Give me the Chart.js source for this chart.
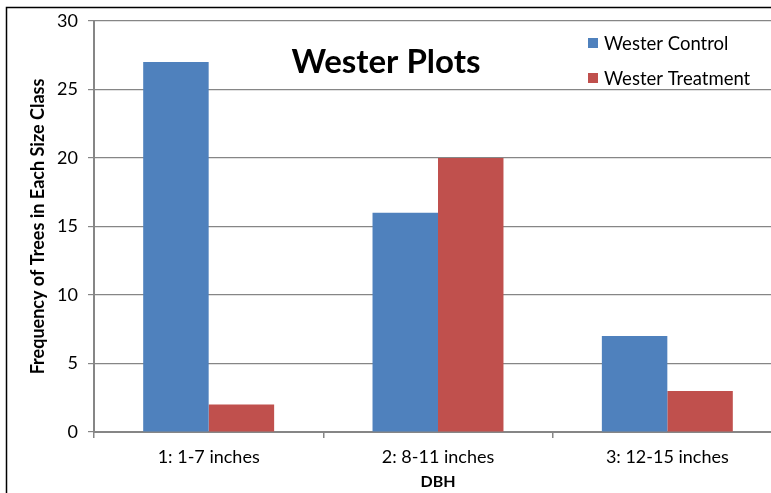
<!DOCTYPE html>
<html><head><meta charset="utf-8">
<script src="https://cdn.jsdelivr.net/npm/chart.js@4"></script>
<style>
html,body{margin:0;padding:0;background:#fff;overflow:hidden;}
#wrap{width:771px;height:493px;overflow:hidden;position:relative;}
#c{position:absolute;left:0;top:0;}
</style></head>
<body><div id="wrap"><canvas id="c" width="790" height="493"></canvas></div>
<script>
const chartTitle = 'Wester Plots';
const categories = ['1: 1-7 inches', '2: 8-11 inches', '3: 12-15 inches'];
const seriesNames = ['Wester Control', 'Wester Treatment'];
const controlValues = [27, 16, 7];
const treatmentValues = [2, 20, 3];
const yTicks = [0, 5, 10, 15, 20, 25, 30];
const xTitle = 'DBH';
const yTitle = 'Frequency of Trees in Each Size Class';
const colors = ['#4F81BD', '#C0504D'];
const FONT = 'Lato, "Open Sans", sans-serif';

const framePlugin = {
  id: 'frame',
  beforeDraw(chart) {
    const ctx = chart.ctx;
    ctx.save();
    ctx.fillStyle = '#fff';
    ctx.fillRect(0, 0, chart.width, chart.height);
    ctx.strokeStyle = '#000';
    ctx.lineWidth = 1.5;
    ctx.beginPath();
    ctx.moveTo(6.5, chart.height);
    ctx.lineTo(6.5, 7.5);
    ctx.lineTo(chart.width, 7.5);
    ctx.stroke();
    ctx.restore();
  },
  afterDraw(chart) {
    const ctx = chart.ctx;
    ctx.save();
    ctx.fillStyle = '#000';
    ctx.font = 'bold 33px ' + FONT;
    ctx.textAlign = 'center';
    ctx.textBaseline = 'middle';
    ctx.fillText(chartTitle, 386, 62);
    ctx.font = '18.5px ' + FONT;
    ctx.textAlign = 'left';
    chart.data.datasets.forEach((ds, i) => {
      const y = 43 + i * 35;
      ctx.fillStyle = ds.backgroundColor;
      ctx.fillRect(588, y - 5, 10, 10);
      ctx.fillStyle = '#000';
      ctx.fillText(ds.label, 604, y + 1);
    });
    ctx.restore();
  }
};

new Chart(document.getElementById('c'), {
  type: 'bar',
  data: {
    labels: categories,
    datasets: [
      { label: seriesNames[0], data: controlValues, backgroundColor: colors[0] },
      { label: seriesNames[1], data: treatmentValues, backgroundColor: colors[1] }
    ]
  },
  options: {
    responsive: false,
    animation: false,
    devicePixelRatio: 1,
    layout: { padding: { left: 0, top: 21, right: 8, bottom: 0 } },
    plugins: { legend: { display: false }, tooltip: { enabled: false } },
    datasets: { bar: { categoryPercentage: 0.571, barPercentage: 1.0 } },
    scales: {
      x: {
        grid: { drawOnChartArea: false, drawTicks: true, tickLength: 6, color: '#868686', lineWidth: 1.5 },
        border: { color: '#868686', width: 2 },
        ticks: { color: '#000', font: { family: FONT, size: 18 }, padding: 8 },
        title: { display: true, text: xTitle, color: '#000', font: { family: FONT, size: 16, weight: 'bold' }, padding: { top: 0, bottom: 2 } },
        afterFit(s) { s.height = 61; }
      },
      y: {
        min: 0, max: 30,
        afterBuildTicks(s) { s.ticks = yTicks.map(v => ({ value: v })); },
        grid: { color: '#868686', lineWidth: 1.2, drawTicks: true, tickLength: 6 },
        border: { color: '#868686', width: 2 },
        ticks: { color: '#000', font: { family: FONT, size: 18 }, padding: 10 },
        title: { display: true, text: yTitle, color: '#000', font: { family: FONT, size: 18, weight: 'bold' }, padding: { top: 27, bottom: 0 } },
        afterFit(s) { s.width = 94; }
      }
    }
  },
  plugins: [framePlugin]
});
</script></body></html>
